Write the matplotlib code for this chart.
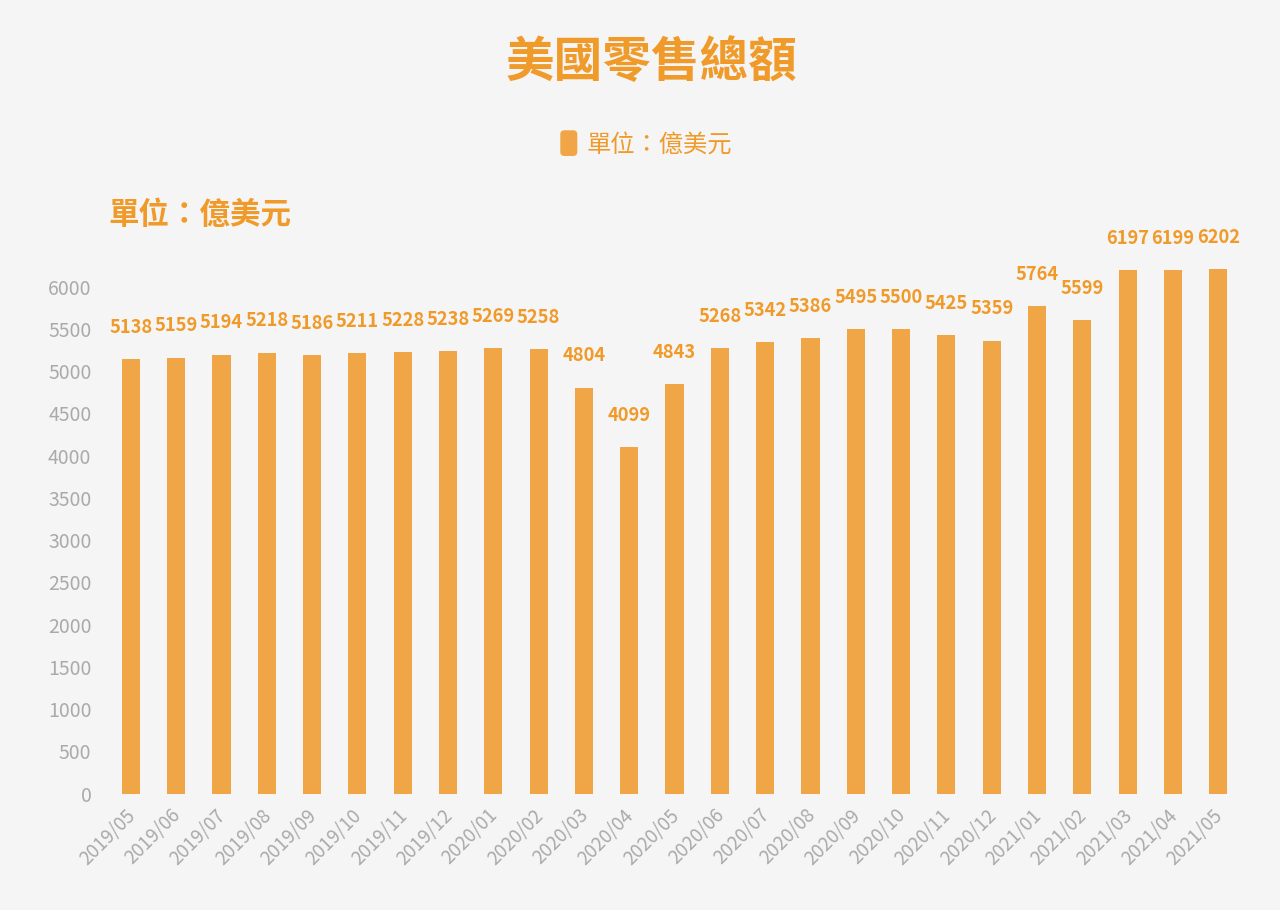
import matplotlib
matplotlib.use("Agg")
import matplotlib.pyplot as plt
import matplotlib.transforms as mtrans
from matplotlib.patches import FancyBboxPatch
from matplotlib.legend_handler import HandlerPatch

# 字型設定：中文用 Noto Sans CJK TC
plt.rcParams['font.family'] = ['Noto Sans CJK TC', 'DejaVu Sans']

# --------------------------------------------------
# 資料
months = ["2019/05", "2019/06", "2019/07", "2019/08", "2019/09", "2019/10",
          "2019/11", "2019/12", "2020/01", "2020/02", "2020/03", "2020/04",
          "2020/05", "2020/06", "2020/07", "2020/08", "2020/09", "2020/10",
          "2020/11", "2020/12", "2021/01", "2021/02", "2021/03", "2021/04",
          "2021/05"]
sales = [5138, 5159, 5194, 5218, 5186, 5211, 5228, 5238, 5269, 5258, 4804,
         4099, 4843, 5268, 5342, 5386, 5495, 5500, 5425, 5359, 5764, 5599,
         6197, 6199, 6202]
yticks = list(range(0, 6001, 500))
# --------------------------------------------------

BG = "#f5f5f5"
BAR = "#f0a646"
TXT = "#f09a2a"
GRAY = "#aaaaaa"


class RoundBoxHandler(HandlerPatch):
    # 圖例用的圓角方塊
    def create_artists(self, legend, orig_handle, xdescent, ydescent,
                       width, height, fontsize, trans):
        p = FancyBboxPatch((-xdescent, -ydescent), width, height,
                           boxstyle="round,pad=0,rounding_size=3",
                           facecolor=BAR, edgecolor="none", transform=trans)
        return [p]


fig = plt.figure(figsize=(12.8, 9.1), dpi=100, facecolor=BG)
ax = fig.add_axes([0.0845, 0.128, 0.885, 0.65])
ax.set_facecolor(BG)

x = list(range(len(months)))
bars = ax.bar(x, sales, width=0.4, color=BAR, label="單位：億美元")

for xi, v in zip(x, sales):
    ax.text(xi, v + 375, str(v), ha="center", va="center", color=TXT,
            fontsize=13.2, fontweight="bold")

ax.set_xlim(-0.5, len(months) - 0.5)
ax.set_ylim(0, 7000)
ax.set_yticks(yticks)
ax.set_yticklabels([str(t) for t in yticks], color=GRAY, fontsize=14)
ax.set_xticks(x)
ax.set_xticklabels(months, rotation=45, ha="right", rotation_mode="anchor",
                   color=GRAY, fontsize=13.5)
ax.tick_params(axis="y", length=0, pad=12)
ax.tick_params(axis="x", length=0, pad=6)
# x 軸標籤稍微往左下移
shift = mtrans.ScaledTranslation(-0.06, -0.03, fig.dpi_scale_trans)
for lab in ax.get_xticklabels():
    lab.set_transform(lab.get_transform() + shift)
for s in ax.spines.values():
    s.set_visible(False)

fig.text(0.509, 0.931, "美國零售總額", ha="center", va="center", color=TXT,
         fontsize=35, fontweight="bold")
fig.text(0.085, 0.764, "單位：億美元", ha="left", va="center", color=TXT,
         fontsize=22, fontweight="bold")

fig.legend(handles=[bars.patches[0]], labels=["單位：億美元"],
           loc="center", bbox_to_anchor=(0.505, 0.842), frameon=False,
           handler_map={bars.patches[0]: RoundBoxHandler()},
           handlelength=0.7, handleheight=1.25, handletextpad=0.4,
           prop={"size": 17.5}, labelcolor=TXT)

fig.savefig("out.png", dpi=100, facecolor=BG)
